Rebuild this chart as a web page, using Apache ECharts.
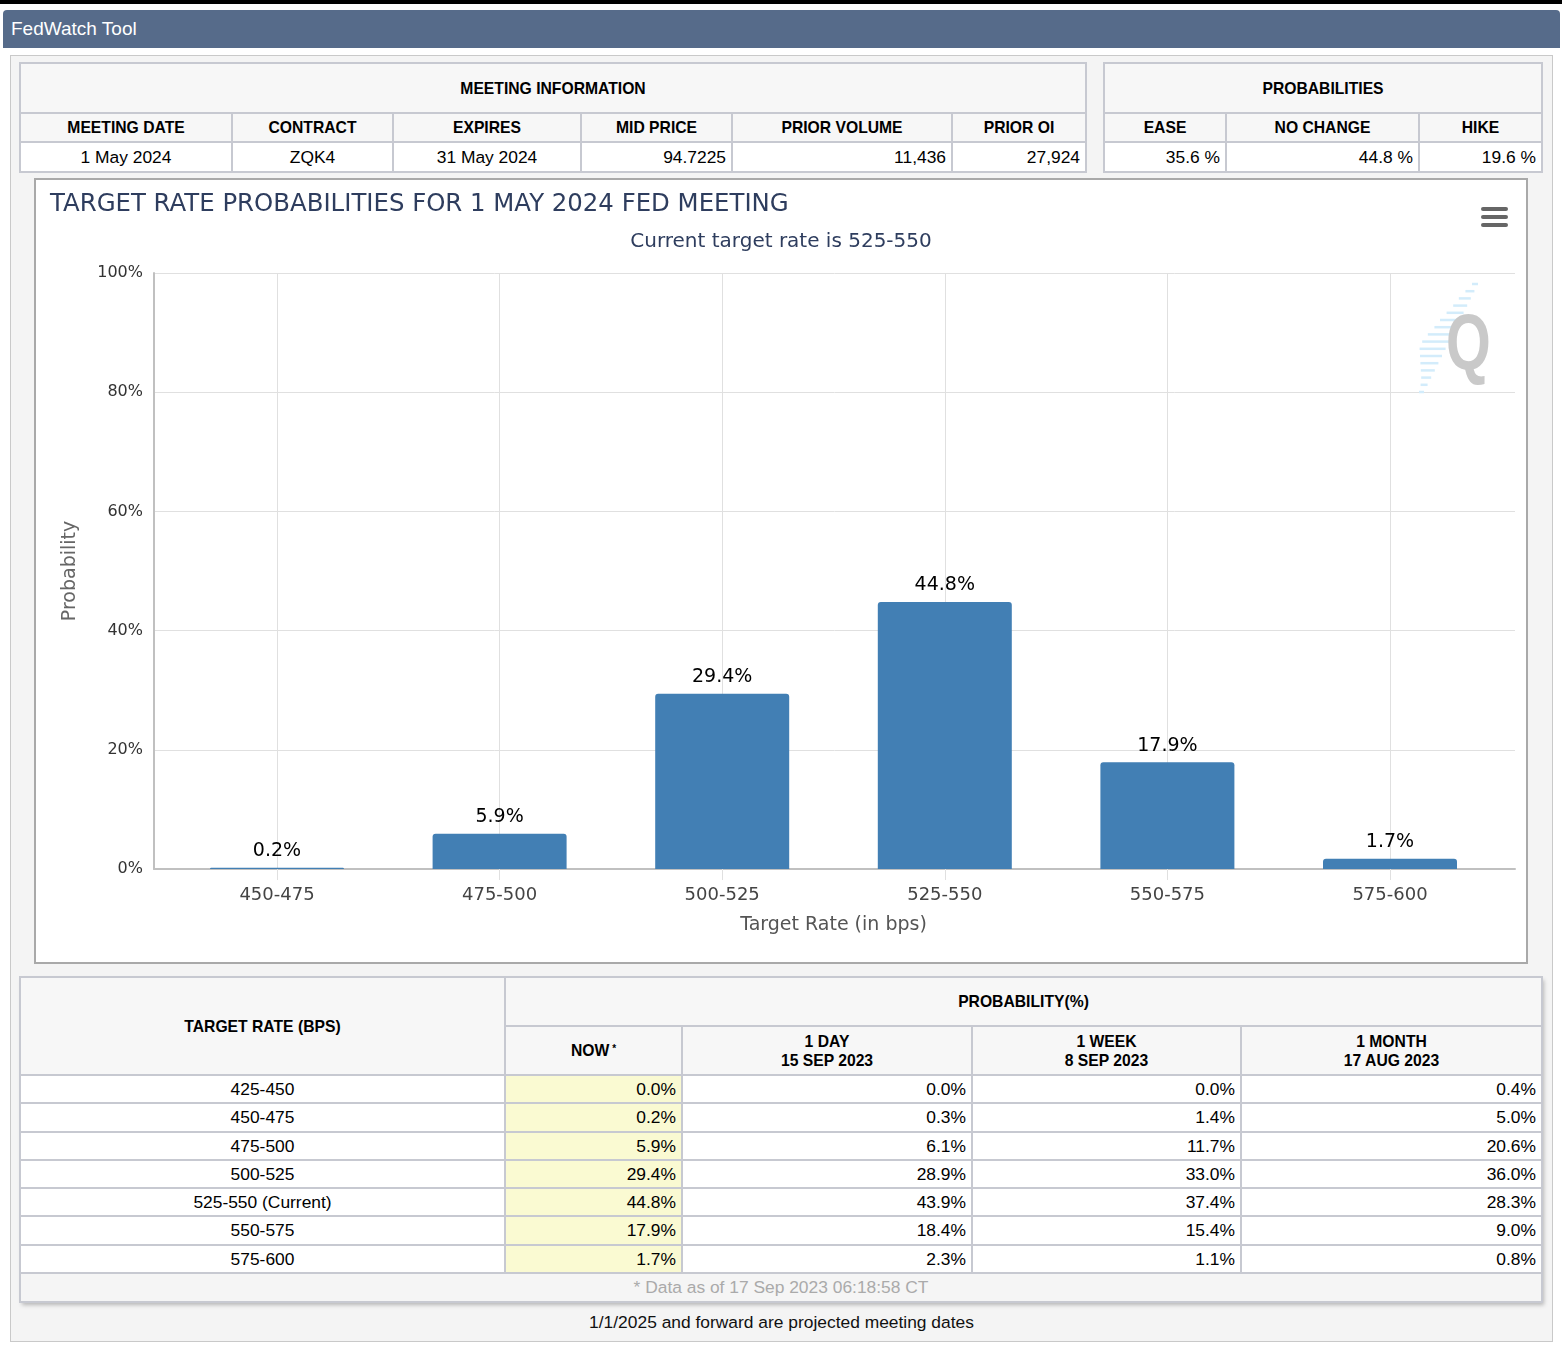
<!DOCTYPE html>
<html>
<head>
<meta charset="UTF-8">
<title>FedWatch Tool</title>
<script src="https://cdn.jsdelivr.net/npm/echarts@6/dist/echarts.min.js"></script>
<style>
  body { margin:0; width:1562px; height:1348px; background:#fff; position:relative; overflow:hidden;
         font-family:"Liberation Sans", Arial, sans-serif; }
  #topline { position:absolute; left:0; top:0; width:1562px; height:4px; background:#000; }
  #bar { position:absolute; left:3px; top:10px; width:1557px; height:38px; background:#566b8a;
         border-radius:4px 4px 0 0; color:#fff; font-size:19px; line-height:37px; padding-left:8px; box-sizing:border-box; }
  #panel { position:absolute; left:10px; top:55px; width:1543px; height:1287px; background:#f4f4f4;
           border:1px solid #c9c9c9; box-sizing:border-box; }
  .cell { position:absolute; box-sizing:border-box; border:2px solid #c7c9d1; background:#fff;
          font-size:17.4px; color:#000; display:flex; align-items:center; justify-content:center;
          text-align:center; padding:0 5px; white-space:nowrap; line-height:19px; }
  .hd { background:#f7f7f7; font-weight:bold; font-size:15.7px; }
  .num { justify-content:flex-end; }
  .now { background:#fafad2; }
  .foot { background:#f5f5f5; color:#aaa; }
  .hd sup { font-size:10px; margin-left:3px; position:relative; top:-2px; }
  #shadow { position:absolute; left:20px; top:977px; width:1522px; height:325px; box-shadow:2px 3px 4px rgba(0,0,0,0.25); }
  #chartbox { position:absolute; left:34px; top:178px; width:1494px; height:786px;
              border:2px solid #a9a9a9; box-sizing:border-box; background:#fff; }
  #chart { width:1490px; height:782px; }
  #note { position:absolute; left:10px; width:1543px; top:1312px; text-align:center; font-size:17.4px; color:#111; }
</style>
</head>
<body>
<div id="topline"></div>
<div id="bar">FedWatch Tool</div>
<div id="panel"></div>
<div id="shadow"></div>
<div id="chartbox"><div id="chart"></div></div>
<div id="note">1/1/2025 and forward are projected meeting dates</div>

<script>
// ---- data ----
var meetingHeaders = ['MEETING DATE', 'CONTRACT', 'EXPIRES', 'MID PRICE', 'PRIOR VOLUME', 'PRIOR OI'];
var meetingValues = ['1 May 2024', 'ZQK4', '31 May 2024', '94.7225', '11,436', '27,924'];
var probHeaders = ['EASE', 'NO CHANGE', 'HIKE'];
var probValues = ['35.6 %', '44.8 %', '19.6 %'];

var categories = ['450-475', '475-500', '500-525', '525-550', '550-575', '575-600'];
var probNow = [0.2, 5.9, 29.4, 44.8, 17.9, 1.7];

var tableRates = ['425-450', '450-475', '475-500', '500-525', '525-550 (Current)', '550-575', '575-600'];
var colNow = [0.0, 0.2, 5.9, 29.4, 44.8, 17.9, 1.7];
var colDay = [0.0, 0.3, 6.1, 28.9, 43.9, 18.4, 2.3];
var colWeek = [0.0, 1.4, 11.7, 33.0, 37.4, 15.4, 1.1];
var colMonth = [0.4, 5.0, 20.6, 36.0, 28.3, 9.0, 0.8];
var colHeads = ['NOW<sup>*</sup>', '1 DAY<br>15 SEP 2023', '1 WEEK<br>8 SEP 2023', '1 MONTH<br>17 AUG 2023'];

// ---- tables (cells placed on border lines) ----
function cell(x0, y0, x1, y1, html, cls) {
  var d = document.createElement('div');
  d.className = 'cell ' + (cls || '');
  d.style.left = (x0 - 1) + 'px';
  d.style.top = (y0 - 1) + 'px';
  d.style.width = (x1 - x0 + 2) + 'px';
  d.style.height = (y1 - y0 + 2) + 'px';
  d.innerHTML = html;
  document.body.appendChild(d);
}

var mx = [20, 232, 393, 581, 732, 952, 1086];
cell(20, 63, 1086, 113, 'MEETING INFORMATION', 'hd');
meetingHeaders.forEach(function (h, i) {
  cell(mx[i], 113, mx[i + 1], 142, h, 'hd');
  cell(mx[i], 142, mx[i + 1], 172, meetingValues[i], i >= 3 ? 'num' : '');
});

var px = [1104, 1226, 1419, 1542];
cell(1104, 63, 1542, 113, 'PROBABILITIES', 'hd');
probHeaders.forEach(function (h, i) {
  cell(px[i], 113, px[i + 1], 142, h, 'hd');
  cell(px[i], 142, px[i + 1], 172, probValues[i], 'num');
});

var bx = [505, 682, 972, 1241, 1542];
cell(20, 977, 505, 1075, 'TARGET RATE (BPS)', 'hd');
cell(505, 977, 1542, 1026, 'PROBABILITY(%)', 'hd');
colHeads.forEach(function (h, i) {
  cell(bx[i], 1026, bx[i + 1], 1075, h, 'hd');
});
var rowH = (1273 - 1075) / tableRates.length;
var cols = [colNow, colDay, colWeek, colMonth];
tableRates.forEach(function (r, j) {
  var y0 = Math.round(1075 + j * rowH), y1 = Math.round(1075 + (j + 1) * rowH);
  cell(20, y0, 505, y1, r);
  cols.forEach(function (c, i) {
    cell(bx[i], y0, bx[i + 1], y1, c[j].toFixed(1) + '%', 'num' + (i === 0 ? ' now' : ''));
  });
});
cell(20, 1273, 1542, 1302, '* Data as of 17 Sep 2023 06:18:58 CT', 'foot');

// ---- chart ----
var myChart = echarts.init(document.getElementById('chart'));
var gridColor = '#e0e0e0';

// watermark logo: faint streaks + Q
var logo = [];
var streaks = [6, 9, 12, 14, 17, 20, 22, 25, 27, 26, 22, 18, 14, 10, 7, 5];
streaks.forEach(function (len, i) {
  var y = 104 + i * 7.2;
  var xr = 1442 - i * 3.6;
  logo.push({ type: 'line', shape: { x1: xr - len, y1: y, x2: xr, y2: y },
              style: { stroke: '#d3ecfb', lineWidth: 2.5 }, z: 1 });
});
logo.push({ type: 'text', x: 1410, y: 127, scaleX: 0.72, z: 2,
            style: { text: 'Q', fontSize: 80, fontWeight: 'bold', fill: '#c9c9c9', fontFamily: 'Liberation Sans' } });
// menu icon
[27, 35, 43].forEach(function (y) {
  logo.push({ type: 'rect', shape: { x: 1445, y: y, width: 27, height: 4, r: 2 }, style: { fill: '#666' } });
});

var option = {
  animation: false,
  textStyle: { fontFamily: 'DejaVu Sans' },
  title: [
    {
      text: 'TARGET RATE PROBABILITIES FOR 1 MAY 2024 FED MEETING',
      left: 14, top: 13, padding: 0,
      textStyle: { fontSize: 24.4, fontWeight: 'normal', color: '#2e3d5e', fontFamily: 'DejaVu Sans' }
    },
    {
      text: 'Current target rate is 525-550',
      left: 'center', top: 52, padding: 0,
      textStyle: { fontSize: 20, fontWeight: 'normal', color: '#2e3d5e', fontFamily: 'DejaVu Sans' }
    }
  ],
  grid: [
    { left: 118, right: 11, top: 93, bottom: 93 },
    { left: 241, right: 136, top: 93, bottom: 93 }
  ],
  xAxis: [
    {
      gridIndex: 0, type: 'value', min: 0, max: 1,
      axisLine: { show: true, lineStyle: { color: '#c0c0c0', width: 2 } },
      axisTick: { show: false }, axisLabel: { show: false }, splitLine: { show: false }
    },
    {
      gridIndex: 1, type: 'category', data: categories, boundaryGap: false,
      axisLine: { show: false },
      axisTick: { show: true, length: 11, lineStyle: { color: gridColor } },
      axisLabel: { margin: 17, fontSize: 18, color: '#444' },
      splitLine: { show: true, lineStyle: { color: gridColor } },
      name: 'Target Rate (in bps)', nameLocation: 'middle', nameGap: 47,
      nameTextStyle: { fontSize: 19, color: '#555' }
    }
  ],
  yAxis: [
    {
      gridIndex: 0, type: 'value', min: 0, max: 100, interval: 20,
      axisLine: { show: true, lineStyle: { color: '#c0c0c0', width: 2 } },
      axisTick: { show: false },
      axisLabel: { formatter: '{value}%', margin: 11, fontSize: 16, color: '#333', padding: [3, 0, 0, 0] },
      splitLine: { lineStyle: { color: gridColor } },
      name: 'Probability', nameLocation: 'middle', nameGap: 74,
      nameTextStyle: { fontSize: 19, color: '#666' }
    },
    { gridIndex: 1, type: 'value', min: 0, max: 100, show: false }
  ],
  series: [{
    type: 'bar',
    xAxisIndex: 1, yAxisIndex: 1,
    data: probNow,
    barWidth: 134,
    clip: false,
    itemStyle: { color: '#427fb4', borderRadius: [3, 3, 0, 0] },
    label: { show: true, position: 'top', distance: 7, formatter: '{c}%', fontSize: 19, color: '#000' }
  }],
  graphic: logo
};
myChart.setOption(option);
</script>
</body>
</html>
